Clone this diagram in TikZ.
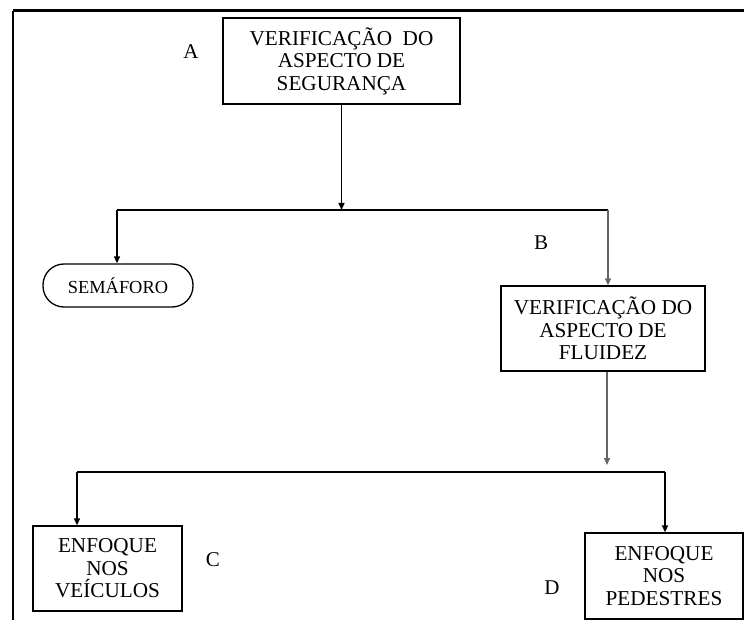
\documentclass[tikz,border=0pt]{standalone}
\usepackage{fontspec}
\setmainfont{Liberation Serif}
\usetikzlibrary{arrows.meta}

\tikzset{
  caixa/.style={draw, line width=0.65pt, align=center, inner sep=1pt,
    font=\fontsize{10.6}{11.2}\selectfont},
  pilula/.style={draw, line width=0.65pt, rounded corners=10.5pt, align=center,
    font=\fontsize{9.2}{10.5}\selectfont},
  rotulo/.style={font=\fontsize{10.5}{11}\selectfont},
  seta/.style={line width=0.7pt, -{Triangle[length=3.5pt,width=3pt]}},
  cinza/.style={draw=black!60}
}

\begin{document}
\begin{tikzpicture}[x=0.5pt, y=-0.5pt]
    \useasboundingbox (0,0) rectangle (744,620);

    % moldura
    \draw[line width=1.5pt] (13,11) -- (744,11);
    \draw[line width=1pt] (13,11) -- (13,620);

    % caixas
    \node[caixa, minimum width=118.5pt, minimum height=43pt] (seguranca) at (341.5,61)
        {VERIFICAÇÃO\ \ DO\\ASPECTO DE\\SEGURANÇA};
    \node[pilula, minimum width=75pt, minimum height=21.5pt] (semaforo) at (118,285.5)
        {SEMÁFORO};
    \node[caixa, minimum width=102pt, minimum height=42.5pt] (fluidez) at (603,328.5)
        {VERIFICAÇÃO DO\\ASPECTO DE\\FLUIDEZ};
    \node[caixa, minimum width=74.5pt, minimum height=42.5pt] (veiculos) at (107.5,568.5)
        {ENFOQUE\\NOS\\VEÍCULOS};
    \node[caixa, minimum width=79pt, minimum height=43pt] (pedestres) at (664,576)
        {ENFOQUE\\NOS\\PEDESTRES};

    % letras
    \node[rotulo] (la) at (191,52) {A};
    \node[rotulo] (lb) at (541,243) {B};
    \node[rotulo] (lc) at (213,560) {C};
    \node[rotulo] (ld) at (552,588) {D};

    % primeira bifurcacao
    \coordinate (j1) at (341.5,210);
    \coordinate (j1l) at (117,210);
    \coordinate (j1r) at (608,210);
    \draw[seta] (seguranca) -- (j1);
    \draw[line width=0.7pt] (j1l) -- (j1r);
    \draw[seta] (j1l) -- (j1l |- semaforo.north);
    \draw[seta, cinza] (j1r) -- (j1r |- fluidez.north);

    % segunda bifurcacao
    \coordinate (j2) at (607,465);
    \coordinate (j2l) at (77,472);
    \coordinate (j2r) at (665,472);
    \draw[seta, cinza] (j2 |- fluidez.south) -- (j2);
    \draw[line width=0.7pt] (j2l) -- (j2r);
    \draw[seta] (j2l) -- (j2l |- veiculos.north);
    \draw[seta] (j2r) -- (j2r |- pedestres.north);
\end{tikzpicture}
\end{document}
